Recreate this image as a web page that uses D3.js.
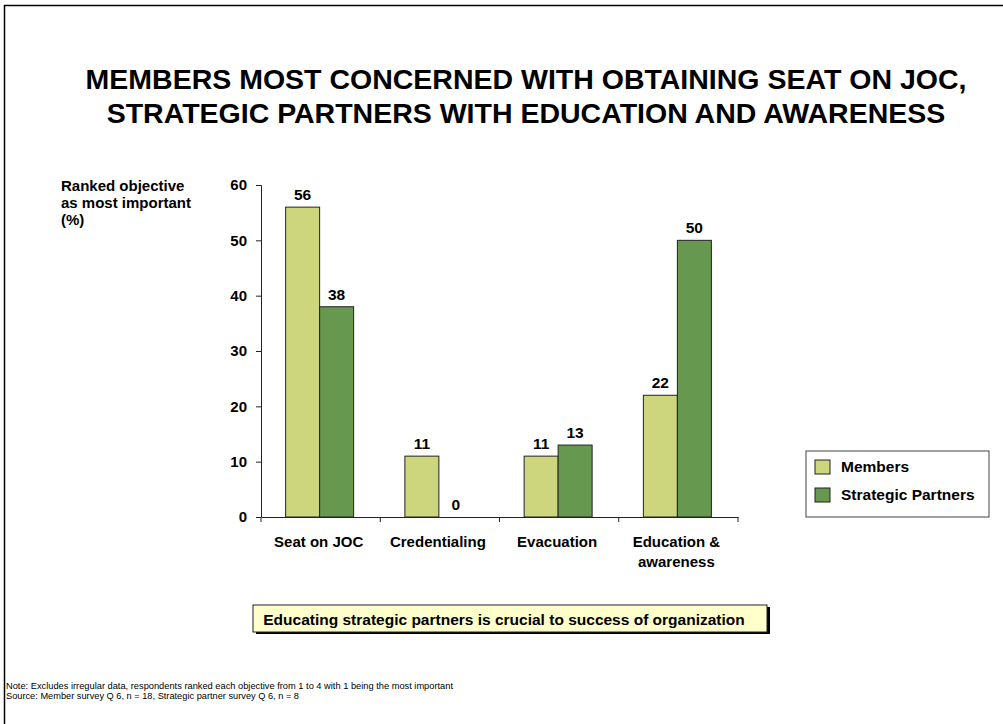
<!DOCTYPE html>
<html>
<head>
<meta charset="utf-8">
<script src="https://cdn.jsdelivr.net/npm/d3@7"></script>
<style>
  body { margin: 0; background: #fff; }
  svg { font-family: Arial, "Liberation Sans", sans-serif; }
</style>
</head>
<body>
<div class="canva"></div>
<script>
const categories = ["Seat on JOC", "Credentialing", "Evacuation", "Education & awareness"];
const categoryLines = [["Seat on JOC"], ["Credentialing"], ["Evacuation"], ["Education &", "awareness"]];
const seriesNames = ["Members", "Strategic Partners"];
const members = [56, 11, 11, 22];
const partners = [38, 0, 13, 50];
const yTicks = [0, 10, 20, 30, 40, 50, 60];
const colors = ["#cdd67c", "#66994f"];

const svg = d3.select(".canva").append("svg")
    .attr("width", 1003)
    .attr("height", 724);

// frame
svg.append("path")
    .attr("d", "M4.5,724 V5.5 H1003")
    .attr("fill", "none")
    .attr("stroke", "#000")
    .attr("stroke-width", 1.5);

// title
const title = svg.append("text")
    .attr("text-anchor", "middle")
    .style("font-size", "28.5px")
    .style("font-weight", "bold");
title.append("tspan").attr("x", 526).attr("y", 89)
    .text("MEMBERS MOST CONCERNED WITH OBTAINING SEAT ON JOC,");
title.append("tspan").attr("x", 526).attr("y", 123)
    .text("STRATEGIC PARTNERS WITH EDUCATION AND AWARENESS");

// y label
const ylab = svg.append("text")
    .style("font-size", "15px")
    .style("font-weight", "bold");
["Ranked objective", "as most important", "(%)"].forEach((t, i) => {
    ylab.append("tspan").attr("x", 61).attr("y", 191 + i * 17).text(t);
});

const margin = {left: 261, top: 185};
const width = 477, height = 332;

const graph = svg.append("g")
    .attr("transform", `translate(${margin.left}, ${margin.top})`);

const x0 = d3.scaleBand().domain(categories).range([0, width]);
const x1 = d3.scaleBand().domain(seriesNames).range([0, 68]);
const y = d3.scaleLinear().domain([0, 60]).range([height, 0]);

const data = categories.map((c, i) => ({cat: c, values: [members[i], partners[i]]}));

const groups = graph.selectAll(".grp")
    .data(data)
    .enter()
    .append("g")
    .attr("class", "grp")
    .attr("transform", d => `translate(${x0(d.cat) + x0.bandwidth() / 2 - 35}, 0)`);

groups.selectAll("rect")
    .data(d => d.values.map((v, j) => ({s: seriesNames[j], v: v, j: j})))
    .enter()
    .filter(d => d.v > 0)
    .append("rect")
    .attr("x", d => x1(d.s))
    .attr("y", d => y(d.v))
    .attr("width", x1.bandwidth())
    .attr("height", d => y(0) - y(d.v))
    .attr("fill", d => colors[d.j])
    .attr("stroke", "#222")
    .attr("stroke-width", 1);

groups.selectAll(".val")
    .data(d => d.values.map((v, j) => ({s: seriesNames[j], v: v})))
    .enter()
    .append("text")
    .attr("class", "val")
    .attr("x", d => x1(d.s) + x1.bandwidth() / 2)
    .attr("y", d => y(d.v) - 7)
    .attr("text-anchor", "middle")
    .style("font-size", "15.5px")
    .style("font-weight", "bold")
    .text(d => d.v);

// y axis
const yAxis = d3.axisLeft(y).tickValues(yTicks).tickSize(5).tickPadding(9);
const gy = graph.append("g").call(yAxis);
gy.selectAll("text").style("font-size", "15px").style("font-weight", "bold").attr("fill", "#000");
gy.select(".domain").attr("d", `M-5,0.5H0.5V${height}`).attr("stroke", "#222");
gy.selectAll(".tick line").attr("stroke", "#222");

// x axis
const xAxis = d3.axisBottom(x0).tickSize(0).tickFormat("");
const gx = graph.append("g").attr("transform", `translate(0, ${height})`).call(xAxis);
gx.select(".domain").attr("stroke", "#222");
gx.selectAll(".sep")
    .data(d3.range(categories.length + 1))
    .enter()
    .append("line")
    .attr("class", "sep")
    .attr("x1", i => i * x0.step())
    .attr("x2", i => i * x0.step())
    .attr("y1", 0)
    .attr("y2", 5)
    .attr("stroke", "#222");

graph.selectAll(".xlab")
    .data(categories)
    .enter()
    .append("text")
    .attr("class", "xlab")
    .attr("text-anchor", "middle")
    .attr("transform", d => `translate(${x0(d) + x0.bandwidth() / 2 - 2}, ${height + 30})`)
    .style("font-size", "15px")
    .style("font-weight", "bold")
    .each(function(d, i) {
        d3.select(this).selectAll("tspan")
            .data(categoryLines[i])
            .enter()
            .append("tspan")
            .attr("x", 0)
            .attr("dy", (t, k) => k === 0 ? 0 : 20)
            .text(t => t);
    });

// legend
const legend = svg.append("g").attr("transform", "translate(806, 451)");
legend.append("rect")
    .attr("width", 183).attr("height", 66)
    .attr("fill", "#fff").attr("stroke", "#444");
seriesNames.forEach((s, i) => {
    legend.append("rect")
        .attr("x", 9).attr("y", 9 + i * 28)
        .attr("width", 15).attr("height", 14)
        .attr("fill", colors[i]).attr("stroke", "#222");
    legend.append("text")
        .attr("x", 35).attr("y", 21 + i * 28)
        .style("font-size", "15.5px").style("font-weight", "bold")
        .text(s);
});

// callout
svg.append("rect").attr("x", 256).attr("y", 607).attr("width", 514).attr("height", 27).attr("fill", "#000");
svg.append("rect").attr("x", 253).attr("y", 605).attr("width", 514).attr("height", 27)
    .attr("fill", "#ffffcc").attr("stroke", "#222");
svg.append("text")
    .attr("x", 504).attr("y", 625)
    .attr("text-anchor", "middle")
    .style("font-size", "15.5px").style("font-weight", "bold")
    .text("Educating strategic partners is crucial to success of organization");

// notes
const note = svg.append("text").style("font-size", "9.5px");
note.append("tspan").attr("x", 6).attr("y", 689).attr("textLength", 447).attr("lengthAdjust", "spacingAndGlyphs")
    .text("Note: Excludes irregular data, respondents ranked each objective from 1 to 4 with 1 being the most important");
note.append("tspan").attr("x", 6).attr("y", 699).attr("textLength", 293).attr("lengthAdjust", "spacingAndGlyphs")
    .text("Source: Member survey Q 6, n = 18, Strategic partner survey Q 6, n = 8");
</script>
</body>
</html>
